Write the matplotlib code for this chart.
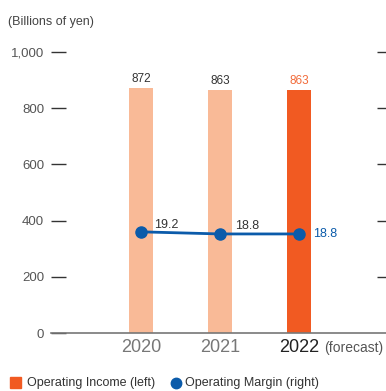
import matplotlib.pyplot as plt
import numpy as np

plt.rcParams['font.family'] = ['Liberation Sans', 'DejaVu Sans']

years = ["2020", "2021", "2022"]
income = [872, 863, 863]
margin = [19.2, 18.8, 18.8]
left_ticks = [0, 200, 400, 600, 800, 1000]
left_labels = ["0", "200", "400", "600", "800", "1,000"]

light = "#F9BA97"
dark = "#F15A22"
blue = "#0B5BAA"

fig = plt.figure(figsize=(3.86, 3.91), dpi=100)
ax = fig.add_axes([51 / 386, 58 / 391, 335 / 386, 281 / 391])
x = np.arange(len(years))
colors = [light, light, dark]
ax.bar(x, income, width=0.30, color=colors, zorder=2)
ax.set_xlim(-1.14, 3.10)
ax.set_ylim(0, 1000)
ax.set_yticks(left_ticks)
ax.set_yticklabels(left_labels, fontsize=9.5, color="#555555")
ax.tick_params(axis="y", direction="in", length=11, width=1, color="#333333", pad=5)
ax.set_xticks([])
for s in ["top", "right", "left"]:
    ax.spines[s].set_visible(False)
ax.spines["bottom"].set_color("#777777")
ax.spines["bottom"].set_linewidth(1.2)

for i, v in enumerate(income):
    c = "#F26B3A" if i == 2 else "#333333"
    ax.text(x[i], v + 12, f"{v}", ha="center", va="bottom", fontsize=8.5, color=c)

# year labels
ax.text(x[0], -20, years[0], ha="center", va="top", fontsize=13, color="#777777")
ax.text(x[1], -20, years[1], ha="center", va="top", fontsize=13, color="#777777")
ax.text(x[2], -20, years[2], ha="center", va="top", fontsize=13, color="#222222")
ax.text(x[2] + 0.32, -27, "(forecast)", ha="left", va="top", fontsize=10, color="#555555")

ax2 = ax.twinx()
ax2.set_ylim(0, 1000 / 18.75)
ax2.set_yticks(np.array(left_ticks[1:]) / 18.75)
ax2.set_yticklabels([])
ax2.tick_params(axis="y", direction="in", length=6.5, width=1, color="#333333")
for s in ["top", "right", "left", "bottom"]:
    ax2.spines[s].set_visible(False)
ax2.plot(x, margin, color=blue, lw=2, marker="o", ms=8, zorder=3)
ax2.text(x[0] + 0.17, margin[0] + 0.25, f"{margin[0]}", ha="left", va="bottom", fontsize=9, color="#333333")
ax2.text(x[1] + 0.19, margin[1] + 0.35, f"{margin[1]}", ha="left", va="bottom", fontsize=9, color="#333333")
ax2.text(x[2] + 0.18, margin[2], f"{margin[2]}", ha="left", va="center", fontsize=9, color=blue)

fig.text(8 / 386, 1 - 22 / 391, "(Billions of yen)", ha="left", va="center", fontsize=9, color="#444444")

# legend
fig.patches.append(plt.Rectangle((10 / 386, 1 - 388 / 391), 11 / 386, 11 / 391,
                                 transform=fig.transFigure, color=dark))
fig.text(27 / 386, 1 - 383 / 391, "Operating Income (left)", ha="left", va="center", fontsize=9, color="#333333")
fig.add_artist(plt.Line2D([176 / 386], [1 - 383 / 391], marker="o", ms=7.5, color=blue,
                          transform=fig.transFigure))
fig.text(185 / 386, 1 - 383 / 391, "Operating Margin (right)", ha="left", va="center", fontsize=9, color="#333333")

fig.savefig("out.png", dpi=100)
